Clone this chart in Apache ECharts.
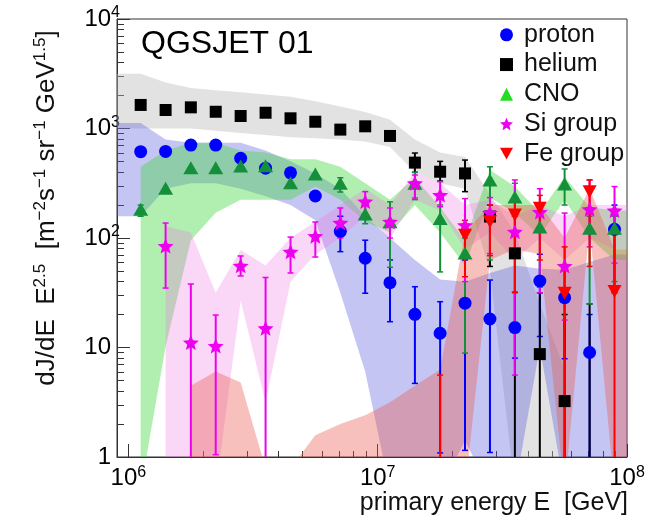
<!DOCTYPE html>
<html><head><meta charset="utf-8">
<script src="https://cdn.jsdelivr.net/npm/echarts@6/dist/echarts.min.js"></script>
<style>html,body{margin:0;padding:0;background:#fff}#c{width:657px;height:521px}</style>
</head><body><div id="c"></div>
<script>
// ---- data ----
const energy = [1.12e6,1.41e6,1.78e6,2.24e6,2.82e6,3.55e6,4.47e6,5.62e6,7.08e6,8.91e6,
                1.12e7,1.41e7,1.78e7,2.24e7,2.82e7,3.55e7,4.47e7,5.62e7,7.08e7,8.91e7];
const xTickValues = [1e6, 1e7, 1e8];
const yTickValues = [1, 10, 100, 1000, 10000];
const xRange = [9.0e5, 1e8];
const yRange = [1, 1e4];
const N = null;

const protonFlux  = [614,617,706,706,535,434,394,242,115,65.3,39.1,20.1,13.5,25.4,18.2,15.2,40.5,28.5,9.0,120];
const protonErrLo = [N,N,N,N,N,N,N,N,75,31.3,17.2,4.7,1.09,1.15,1.1,8,12.6,7.9,0.5,31.6];
const protonErrHi = [N,N,N,N,N,N,N,N,158,95.5,63.1,35.9,26.2,63,41.3,32,71,56,20,200];

const heliumFlux  = [1641,1476,1560,1422,1300,1393,1239,1153,977,1047,855,488,403,389,157,72.4,8.7,3.24,N,N];
const heliumErrLo = [N,N,N,N,N,N,N,N,N,N,N,398,331,265,55,0.5,0.5,0.5,0.5,N];
const heliumErrHi = [N,N,N,N,N,N,N,N,N,N,N,597,501,515,200,158,31.6,20,25,N];

const cnoFlux  = [183,284,439,439,455,457,320,384,316,166,141,316,151,73,339,237,126,311,123,123];
const cnoErrLo = [158,N,N,N,N,N,N,N,263,135,54,224,49,8.9,63,158,35.5,200,25,40];
const cnoErrHi = [200,N,N,N,N,N,N,N,355,200,214,398,200,100,447,316,200,427,158,158];

const siFlux  = [N,84.5,11.1,10.3,55.8,15.0,75,104,138,215,141,316,247,131,170,114,173,55.5,183,178];
const siErrLo = [N,34.9,0.5,1.05,45,0.5,47.9,67,100,157,100,232,193,40,72,5.6,31.6,17.8,83,59];
const siErrHi = [N,137,38,19.8,68.5,43.6,102,140,188,265,188,376,327,229,234,339,282,169,339,295];

const feFlux  = [N,N,N,N,N,N,N,N,N,N,N,N,N,106,141,162,187,31.3,265,32.4];
const feErrLo = [N,N,N,N,N,N,N,N,N,N,N,N,0.5,44.3,69,31.6,63,0.5,55,0.5];
const feErrHi = [N,N,N,N,N,N,N,N,N,N,N,N,5.6,145,200,224,245,83,339,110];

// systematic bands
const heliumBandLo = [1000,1000,1000,955,912,871,832,813,794,759,676,398,316,282,50,0.5,0.5,0.5,N,N];
const heliumBandHi = [3162,2630,2344,2239,2138,2042,1950,1778,1585,1413,1202,794,603,550,251,112,25,6.3,N,N];
const protonBandLo = [158,282,316,316,282,240,200,145,31.6,6.0,0.5,0.5,0.5,1.41,0.5,0.5,10,0.5,0.5,0.5];
const protonBandHi = [1122,794,741,741,741,631,501,389,282,158,100,63,41.7,39.8,47.9,56.2,52.5,51.3,60.3,70.8];
const cnoBandLo = [0.5,10.2,95.5,170,224,224,224,295,224,141,112,200,112,56,234,170,105,224,100,63];
const cnoBandHi = [447,631,741,741,631,603,525,525,447,316,224,355,191,95.5,417,295,170,363,191,178];
const siBandLo = [N,0.5,0.5,0.5,26.9,3.16,39.8,70.8,100,158,100,224,178,79.4,112,63.1,100,63.1,100,79.4];
const siBandHi = [N,129,112,31.6,77.6,56.2,100,141,200,282,200,398,316,200,224,158,200,158,200,200];
const feBandLo = [N,N,0.5,0.5,0.5,0.5,0.5,0.5,0.5,0.5,0.5,0.5,0.5,0.5,63,79,71,0.5,126,0.5];
const feBandHi = [N,N,4.47,6.03,4.79,0.79,0.79,1.58,2.0,2.4,3.16,4.47,6.3,112,200,200,200,100,282,79];

// ---- helpers ----
const L = Math.log10;
const FONT = 'Liberation Sans, Arial, Helvetica, sans-serif';
const xMin = L(xRange[0]), xMax = L(xRange[1]);
const yMin = L(yRange[0]), yMax = L(yRange[1]);

function minorTicks(lo, hi) {
  const out = [];
  for (let d = Math.floor(lo) - 1; d <= Math.ceil(hi); d++) {
    for (let k = 2; k <= 9; k++) {
      const v = d + L(k);
      if (v > lo + 1e-6 && v < hi - 1e-6) out.push(v);
    }
  }
  return out;
}

function bandSeries(lo, hi, color, extendLeft) {
  return {
    type: 'custom', silent: true, clip: true, z: 1,
    data: [[xMin, yMin]],
    renderItem: function (params, api) {
      const children = [];
      let seg = [];
      const flush = () => {
        if (seg.length > 0) {
          const top = [], bot = [];
          const first = seg[0], last = seg[seg.length - 1];
          if (first === 0 && extendLeft) {
            top.push(api.coord([xMin, L(hi[0])]));
            bot.push(api.coord([xMin, L(lo[0])]));
          }
          seg.forEach(i => {
            top.push(api.coord([L(energy[i]), L(hi[i])]));
            bot.push(api.coord([L(energy[i]), L(lo[i])]));
          });
          if (last === energy.length - 1) {
            top.push(api.coord([xMax, L(hi[last])]));
            bot.push(api.coord([xMax, L(lo[last])]));
          }
          if (top.length > 1) {
            children.push({
              type: 'polygon',
              shape: { points: top.concat(bot.reverse()) },
              style: { fill: color }
            });
          }
        }
        seg = [];
      };
      for (let i = 0; i < energy.length; i++) {
        if (lo[i] == null || hi[i] == null) { flush(); continue; }
        seg.push(i);
      }
      flush();
      return { type: 'group', children: children };
    }
  };
}

function errSeries(lo, hi, color) {
  const data = [];
  energy.forEach((e, i) => {
    if (lo[i] != null && hi[i] != null) data.push([L(e), L(lo[i]), L(hi[i])]);
  });
  return {
    type: 'custom', silent: true, clip: true, z: 2,
    dimensions: ['x', 'lo', 'hi'],
    encode: { x: 0, y: [1, 2] },
    data: data,
    renderItem: function (params, api) {
      const a = api.coord([api.value(0), api.value(1)]);
      const b = api.coord([api.value(0), api.value(2)]);
      const w = 3;
      return {
        type: 'group', children: [
          { type: 'line', shape: { x1: a[0], y1: a[1], x2: b[0], y2: b[1] }, style: { stroke: color, lineWidth: 2 } },
          { type: 'line', shape: { x1: a[0] - w, y1: a[1], x2: a[0] + w, y2: a[1] }, style: { stroke: color, lineWidth: 1.5 } },
          { type: 'line', shape: { x1: b[0] - w, y1: b[1], x2: b[0] + w, y2: b[1] }, style: { stroke: color, lineWidth: 1.5 } }
        ]
      };
    }
  };
}

function pointSeries(name, flux, symbol, size, color) {
  const data = [];
  energy.forEach((e, i) => { if (flux[i] != null) data.push([L(e), L(flux[i])]); });
  return {
    type: 'scatter', name: name, symbol: symbol, symbolSize: size, z: 3,
    itemStyle: { color: color, opacity: 1 },
    emphasis: { disabled: true },
    data: data
  };
}

const STAR = 'path://M50,0L63.2,31.8L97.6,34.5L71.4,57L79.4,90.5L50,72.5L20.6,90.5L28.6,57L2.4,34.5L36.8,31.8Z';
const DOWN = 'path://M0,0L10,0L5,9Z';

const cP = '#0000ff', cHe = '#000000', cCNO = '#15903a', cSi = '#ee00ee', cFe = '#ff0000';

const supRich = {
  sup: { fontSize: 16, lineHeight: 10, verticalAlign: 'top', fontFamily: FONT, color: '#000' },
  pad: { width: 9, fontSize: 16 }
};

const chart = echarts.init(document.getElementById('c'), null, { renderer: 'canvas' });
chart.setOption({
  animation: false,
  textStyle: { fontFamily: FONT },
  grid: { left: 117, right: 30, top: 19, bottom: 64, show: true, borderColor: '#333', borderWidth: 1, backgroundColor: 'transparent' },
  xAxis: [{
    type: 'value', min: xMin, max: xMax, position: 'bottom',
    axisLine: { show: true, lineStyle: { color: '#333', width: 1 } },
    axisTick: { show: true, inside: true, length: 13, customValues: xTickValues.map(L), lineStyle: { color: '#333' } },
    axisLabel: {
      show: true, customValues: xTickValues.map(L), margin: 7.5,
      fontSize: 24, lineHeight: 28, color: '#000', fontFamily: FONT,
      formatter: v => '10{sup|' + Math.round(v) + '}', rich: supRich
    },
    splitLine: { show: false }
  }, {
    type: 'value', min: xMin, max: xMax, position: 'bottom', offset: 0,
    axisLine: { show: false },
    axisTick: { show: true, inside: true, length: 6, customValues: minorTicks(xMin, xMax), lineStyle: { color: '#333' } },
    axisLabel: { show: false }, splitLine: { show: false }
  }],
  yAxis: [{
    type: 'value', min: yMin, max: yMax, position: 'left',
    axisLine: { show: true, lineStyle: { color: '#333', width: 1 } },
    axisTick: { show: true, inside: true, length: 13, customValues: yTickValues.map(L), lineStyle: { color: '#333' } },
    axisLabel: {
      show: true, customValues: yTickValues.map(L), margin: -3,
      fontSize: 24, lineHeight: 28, color: '#000', fontFamily: FONT,
      formatter: v => {
        const k = Math.round(v);
        if (k === 0) return '1{pad| }';
        if (k === 1) return '10{pad| }';
        return '10{sup|' + k + '}';
      },
      rich: supRich
    },
    splitLine: { show: false }
  }, {
    type: 'value', min: yMin, max: yMax, position: 'left', offset: 0,
    axisLine: { show: false },
    axisTick: { show: true, inside: true, length: 7, customValues: minorTicks(yMin, yMax), lineStyle: { color: '#333' } },
    axisLabel: { show: false }, splitLine: { show: false }
  }],
  legend: {
    orient: 'vertical', left: 495, top: 15, itemWidth: 13, itemHeight: 13, itemGap: 0,
    selectedMode: false,
    textStyle: { fontSize: 25, lineHeight: 29.7, color: '#111', fontFamily: FONT, padding: [0, 0, 0, 6] },
    data: [
      { name: 'proton', icon: 'circle', itemStyle: { color: cP } },
      { name: 'helium', icon: 'rect', itemStyle: { color: cHe } },
      { name: 'CNO', icon: 'triangle', itemStyle: { color: '#22dd22' } },
      { name: 'Si group', icon: STAR, itemStyle: { color: cSi } },
      { name: 'Fe group', icon: DOWN, itemStyle: { color: cFe } }
    ]
  },
  graphic: [
    { type: 'text', x: 141, y: 44, z: 10, style: { text: 'QGSJET 01', fill: '#000', font: '32px ' + FONT, align: 'left', verticalAlign: 'middle' } },
    { type: 'text', x: 628, y: 503, z: 10, style: { text: 'primary energy E  [GeV]', fill: '#111', font: '25px ' + FONT, align: 'right', verticalAlign: 'middle' } },
    { type: 'text', x: 47, y: 208, rotation: Math.PI / 2, z: 10, style: {
        text: '{m|dJ/dE  E}{s|2.5}{m|  [m}{s|\u22122}{m|s}{s|\u22121}{m| sr}{s|\u22121}{m| GeV}{s|1.5}{m|]}',
        align: 'center', verticalAlign: 'middle',
        rich: {
          m: { fontSize: 26, lineHeight: 30, fontFamily: FONT, fill: '#111', color: '#111' },
          s: { fontSize: 17, lineHeight: 12, verticalAlign: 'top', fontFamily: FONT, fill: '#111', color: '#111' }
        }
      } }
  ],
  series: [
    bandSeries(heliumBandLo, heliumBandHi, 'rgba(185,185,185,0.42)', true),
    bandSeries(protonBandLo, protonBandHi, 'rgba(95,95,225,0.36)', true),
    bandSeries(cnoBandLo, cnoBandHi, 'rgba(60,215,60,0.40)', false),
    bandSeries(siBandLo, siBandHi, 'rgba(240,120,230,0.30)', false),
    bandSeries(feBandLo, feBandHi, 'rgba(235,90,80,0.38)', false),
    errSeries(protonErrLo, protonErrHi, cP),
    errSeries(heliumErrLo, heliumErrHi, cHe),
    errSeries(cnoErrLo, cnoErrHi, cCNO),
    errSeries(siErrLo, siErrHi, cSi),
    errSeries(feErrLo, feErrHi, cFe),
    pointSeries('proton', protonFlux, 'circle', 13, cP),
    pointSeries('helium', heliumFlux, 'rect', 12, cHe),
    pointSeries('CNO', cnoFlux, 'triangle', [15, 13], cCNO),
    pointSeries('Si group', siFlux, STAR, [16, 15], cSi),
    pointSeries('Fe group', feFlux, DOWN, [14, 13], cFe)
  ]
});
</script>
</body></html>
